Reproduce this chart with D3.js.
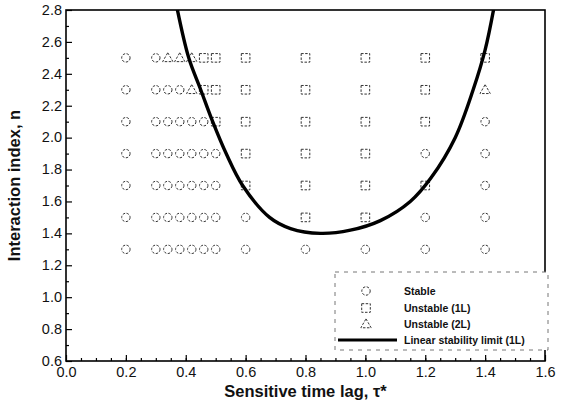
<!DOCTYPE html>
<html>
<head>
    <script src="https://cdnjs.cloudflare.com/ajax/libs/d3/7.8.5/d3.min.js"></script>
    <style>
        body { margin: 0; background: #fff; }
        svg { font-family: "Liberation Sans", Arial, sans-serif; }
        .tick-label { font-size: 14.5px; fill: #111; }
        .axis-title { font-size: 16.5px; font-weight: bold; fill: #111; }
        .legend-text { font-size: 10.5px; font-weight: bold; fill: #111; }
        .marker { fill: none; stroke: #333; stroke-width: 1; stroke-dasharray: 2.5,1.5; }
    </style>
</head>
<body>
    <svg width="575" height="403"></svg>
    <script>
        // Data
        const tauValues = [0.2, 0.3, 0.34, 0.38, 0.42, 0.46, 0.5, 0.6, 0.8, 1.0, 1.2, 1.4];
        const nValues = [2.5, 2.3, 2.1, 1.9, 1.7, 1.5, 1.3];
        // c = stable, s = unstable (1L), t = unstable (2L)
        const states = [
            ["c", "c", "t", "t", "t", "s", "s", "s", "s", "s", "s", "s"],
            ["c", "c", "c", "c", "t", "s", "s", "s", "s", "s", "s", "t"],
            ["c", "c", "c", "c", "c", "c", "s", "s", "s", "s", "s", "c"],
            ["c", "c", "c", "c", "c", "c", "c", "s", "s", "s", "c", "c"],
            ["c", "c", "c", "c", "c", "c", "c", "s", "s", "s", "s", "c"],
            ["c", "c", "c", "c", "c", "c", "c", "c", "s", "s", "c", "c"],
            ["c", "c", "c", "c", "c", "c", "c", "c", "c", "c", "c", "c"]
        ];
        // linear stability limit (1L)
        const limitTau = [0.37, 0.41, 0.45, 0.49, 0.535, 0.59, 0.68, 0.75, 0.85, 0.95, 1.05, 1.15, 1.22, 1.30, 1.36, 1.40, 1.43];
        const limitN   = [2.82, 2.5, 2.3, 2.1, 1.9, 1.7, 1.5, 1.43, 1.40, 1.42, 1.48, 1.60, 1.75, 2.0, 2.3, 2.55, 2.82];

        const xTicks = [0.0, 0.2, 0.4, 0.6, 0.8, 1.0, 1.2, 1.4, 1.6];
        const yTicks = [0.6, 0.8, 1.0, 1.2, 1.4, 1.6, 1.8, 2.0, 2.2, 2.4, 2.6, 2.8];
        const legendLabels = ["Stable", "Unstable (1L)", "Unstable (2L)", "Linear stability limit (1L)"];

        const svg = d3.select("svg");
        const plotLeft = 66, plotRight = 545, plotTop = 10, plotBottom = 361;

        const x = d3.scaleLinear().domain([0, 1.6]).range([plotLeft, plotRight]);
        const y = d3.scaleLinear().domain([0.6, 2.8]).range([plotBottom, plotTop]);

        svg.append("defs").append("clipPath").attr("id", "plot-clip")
            .append("rect").attr("x", plotLeft).attr("y", plotTop)
            .attr("width", plotRight - plotLeft).attr("height", plotBottom - plotTop);

        // Marker shapes
        function drawMarker(g, kind, cx, cy) {
            if (kind === "c") {
                g.append("circle").attr("class", "marker")
                    .attr("cx", cx).attr("cy", cy).attr("r", 4.2);
            } else if (kind === "s") {
                g.append("rect").attr("class", "marker")
                    .attr("x", cx - 4.3).attr("y", cy - 4.3)
                    .attr("width", 8.6).attr("height", 8.6);
            } else {
                g.append("path").attr("class", "marker")
                    .attr("d", d3.symbol(d3.symbolTriangle, 46)())
                    .attr("transform", `translate(${cx},${cy + 0.8})`);
            }
        }

        const markers = svg.append("g");
        nValues.forEach((n, i) => {
            tauValues.forEach((t, j) => {
                drawMarker(markers, states[i][j], x(t), y(n));
            });
        });

        // Stability limit curve
        const limitData = limitTau.map((t, i) => ({ t, n: limitN[i] }));
        svg.append("path")
            .datum(limitData)
            .attr("clip-path", "url(#plot-clip)")
            .attr("fill", "none")
            .attr("stroke", "#000")
            .attr("stroke-width", 3.4)
            .attr("d", d3.line().x(d => x(d.t)).y(d => y(d.n)).curve(d3.curveCatmullRom.alpha(0.5)));

        // Axes (ticks inside)
        const xAxis = svg.append("g").attr("transform", `translate(0,${plotBottom})`)
            .call(d3.axisBottom(x).tickValues(xTicks).tickSize(-6).tickFormat(d3.format(".1f")));
        const xMinor = svg.append("g").attr("transform", `translate(0,${plotBottom})`)
            .call(d3.axisBottom(x).tickValues(d3.range(0.05, 1.6, 0.05)).tickSize(-3).tickFormat(""));
        const yAxis = svg.append("g").attr("transform", `translate(${plotLeft},0)`)
            .call(d3.axisLeft(y).tickValues(yTicks).tickSize(-6).tickFormat(d3.format(".1f")));
        const yMinor = svg.append("g").attr("transform", `translate(${plotLeft},0)`)
            .call(d3.axisLeft(y).tickValues(d3.range(0.7, 2.8, 0.2)).tickSize(-3).tickFormat(""));

        [xAxis, xMinor, yAxis, yMinor].forEach(a => {
            a.select(".domain").remove();
            a.selectAll("line").attr("stroke", "#000").attr("stroke-width", 1.2);
        });
        xAxis.selectAll("text").attr("class", "tick-label").attr("y", 6).attr("dy", "0.71em");
        yAxis.selectAll("text").attr("class", "tick-label").attr("x", -4).attr("dy", "0.3em");

        // Frame
        svg.append("rect")
            .attr("x", plotLeft).attr("y", plotTop)
            .attr("width", plotRight - plotLeft).attr("height", plotBottom - plotTop)
            .attr("fill", "none").attr("stroke", "#000").attr("stroke-width", 1.6);

        // Axis titles
        svg.append("text").attr("class", "axis-title")
            .attr("x", (plotLeft + plotRight) / 2).attr("y", 397)
            .attr("text-anchor", "middle")
            .text("Sensitive time lag, τ*");
        svg.append("text").attr("class", "axis-title")
            .attr("transform", `translate(20,${(plotTop + plotBottom) / 2}) rotate(-90)`)
            .attr("text-anchor", "middle")
            .text("Interaction index, n");

        // Legend
        const legend = svg.append("g");
        legend.append("rect")
            .attr("x", 335).attr("y", 272).attr("width", 213).attr("height", 78)
            .attr("fill", "#fff").attr("stroke", "#777").attr("stroke-width", 1)
            .attr("stroke-dasharray", "4,5");
        const legendY = [291, 308, 324, 340];
        legendLabels.forEach((lab, i) => {
            if (i < 3) {
                drawMarker(legend, ["c", "s", "t"][i], 366, legendY[i]);
            } else {
                legend.append("line")
                    .attr("x1", 338).attr("x2", 397)
                    .attr("y1", legendY[i]).attr("y2", legendY[i])
                    .attr("stroke", "#000").attr("stroke-width", 3);
            }
            legend.append("text").attr("class", "legend-text")
                .attr("x", 404).attr("y", legendY[i]).attr("dy", "0.35em")
                .text(lab);
        });
    </script>
</body>
</html>
